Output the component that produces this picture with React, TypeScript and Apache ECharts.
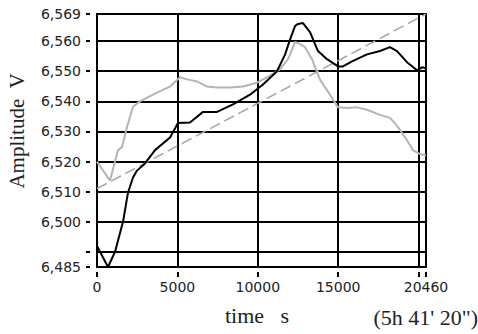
import React, { useEffect, useRef } from "react";
import * as echarts from "echarts";

// time (s) for black trace
const blackTime = [0, 684, 1119, 1617, 1928, 2239, 2488, 2985, 3607, 4540, 5037, 5784, 6592, 7463, 8458, 9515, 10323, 11194, 11692, 12003, 12314, 12500, 12811, 13246, 13744, 14304, 14988, 15299, 15858, 16791, 17600, 18222, 18657, 19279, 19901, 20212, 20460];
const blackValues = [6.492, 6.485, 6.490, 6.500, 6.5097, 6.5147, 6.517, 6.5194, 6.5238, 6.528, 6.5328, 6.533, 6.5365, 6.5365, 6.539, 6.5422, 6.5456, 6.550, 6.5555, 6.5605, 6.565, 6.5657, 6.566, 6.563, 6.5567, 6.554, 6.5516, 6.5516, 6.5533, 6.5556, 6.5567, 6.558, 6.5567, 6.553, 6.5503, 6.5513, 6.551];

// time (s) for grey trace
const greyTime = [0, 808, 1306, 1555, 1866, 2239, 2674, 3110, 3731, 4540, 5162, 5597, 6219, 6841, 7463, 8271, 9079, 9950, 10572, 11380, 11878, 12003, 12314, 12625, 12936, 13371, 13868, 14490, 14988, 15548, 16170, 16791, 17600, 18222, 18719, 19279, 19652, 20088, 20460];
const greyValues = [6.520, 6.5137, 6.5238, 6.5248, 6.5315, 6.5382, 6.540, 6.5412, 6.5429, 6.5449, 6.548, 6.5473, 6.5466, 6.5449, 6.5446, 6.5446, 6.5449, 6.5462, 6.548, 6.5506, 6.554, 6.5556, 6.5597, 6.559, 6.558, 6.554, 6.5472, 6.5422, 6.538, 6.5378, 6.538, 6.5372, 6.5355, 6.5345, 6.5315, 6.5271, 6.5238, 6.5225, 6.522];

// linear trend (dashed)
const trendTime = [0, 20460];
const trendValues = [6.511, 6.569];

const xMin = 0;
const xMax = 20460;
const yMin = 6.485;
const yMax = 6.569;
const xTicks = [0, 5000, 10000, 15000, 20000, 20460];
const xLabels = [0, 5000, 10000, 15000, 20460];
const yTicks = [6.485, 6.49, 6.5, 6.51, 6.52, 6.53, 6.54, 6.55, 6.56, 6.569];
const yLabels = [6.485, 6.5, 6.51, 6.52, 6.53, 6.54, 6.55, 6.56, 6.569];

const xTitle = "time   s";
const xNote = "(5h 41' 20\")";
const yTitle = "Amplitude  V";

export default function App() {
  const ref = useRef<HTMLDivElement>(null);
  useEffect(() => {
    if (!ref.current) return;
    const chart = echarts.init(ref.current, undefined, { renderer: "svg" });
    const zip = (xs: number[], ys: number[]) => xs.map((x, i) => [x, ys[i]]);
    const labelFont = { fontFamily: "DejaVu Sans", fontSize: 14, color: "#222" };
    const serif = "Liberation Serif";
    const gridLine = { show: true, lineStyle: { color: "#000", width: 2 } };
    const tickStyle = { color: "#000", width: 2 };
    const hiddenX = (gi: number) => ({ type: "value", gridIndex: gi, min: xMin, max: xMax, show: false });
    const hiddenY = (gi: number) => ({ type: "value", gridIndex: gi, min: yMin, max: yMax, show: false });
    chart.setOption({
      animation: false,
      backgroundColor: "#fff",
      grid: [
        { left: 97, top: 14, right: 52, bottom: 67, show: true, borderColor: "#000", borderWidth: 2 },
        { left: 90, top: 14, right: 52, bottom: 67, show: false },
        { left: 97, top: 14, right: 52, bottom: 62, show: false },
      ],
      xAxis: [
        {
          type: "value",
          gridIndex: 0,
          min: xMin,
          max: xMax,
          axisLine: { show: false },
          axisTick: { show: false, customValues: xTicks },
          axisLabel: { show: false },
          splitLine: gridLine,
        },
        hiddenX(1),
        {
          type: "value",
          gridIndex: 2,
          min: xMin,
          max: xMax,
          axisLine: { show: false },
          axisTick: { show: true, length: 5, customValues: xTicks, lineStyle: tickStyle },
          axisLabel: { ...labelFont, margin: 8, customValues: xLabels, formatter: (v: number) => String(v) },
          splitLine: { show: false },
        },
      ],
      yAxis: [
        {
          type: "value",
          gridIndex: 0,
          min: yMin,
          max: yMax,
          axisLine: { show: false },
          axisTick: { show: false, customValues: yTicks },
          axisLabel: { show: false },
          splitLine: gridLine,
        },
        {
          type: "value",
          gridIndex: 1,
          min: yMin,
          max: yMax,
          axisLine: { show: false },
          axisTick: { show: true, length: 4, customValues: yTicks, lineStyle: tickStyle },
          axisLabel: {
            ...labelFont,
            margin: 9,
            customValues: yLabels,
            formatter: (v: number) => v.toFixed(3).replace(".", ","),
          },
          splitLine: { show: false },
        },
        hiddenY(2),
      ],
      series: [
        {
          type: "line",
          xAxisIndex: 0,
          yAxisIndex: 0,
          data: zip(trendTime, trendValues),
          symbol: "none",
          lineStyle: { color: "#a6a6a6", width: 1.5, type: [11, 5] },
        },
        {
          type: "line",
          xAxisIndex: 0,
          yAxisIndex: 0,
          data: zip(greyTime, greyValues),
          symbol: "none",
          lineStyle: { color: "#b4b4b4", width: 2 },
        },
        {
          type: "line",
          xAxisIndex: 0,
          yAxisIndex: 0,
          data: zip(blackTime, blackValues),
          symbol: "none",
          lineStyle: { color: "#000", width: 2 },
        },
      ],
      graphic: [
        {
          type: "text",
          x: 17,
          y: 131,
          rotation: Math.PI / 2,
          style: {
            text: yTitle,
            fontFamily: serif,
            fontSize: 21,
            fill: "#222",
            align: "center",
            verticalAlign: "middle",
          },
        },
        {
          type: "text",
          x: 257,
          y: 315,
          style: {
            text: xTitle,
            fontFamily: serif,
            fontSize: 22,
            fill: "#222",
            align: "center",
            verticalAlign: "middle",
          },
        },
        {
          type: "text",
          x: 478,
          y: 317,
          style: {
            text: xNote,
            fontFamily: serif,
            fontSize: 22,
            fill: "#222",
            align: "right",
            verticalAlign: "middle",
          },
        },
      ],
    });
    return () => chart.dispose();
  }, []);
  return (
    <div
      ref={ref}
      style={{ position: "fixed", left: 0, top: 0, width: 478, height: 334, background: "#fff" }}
    />
  );
}
